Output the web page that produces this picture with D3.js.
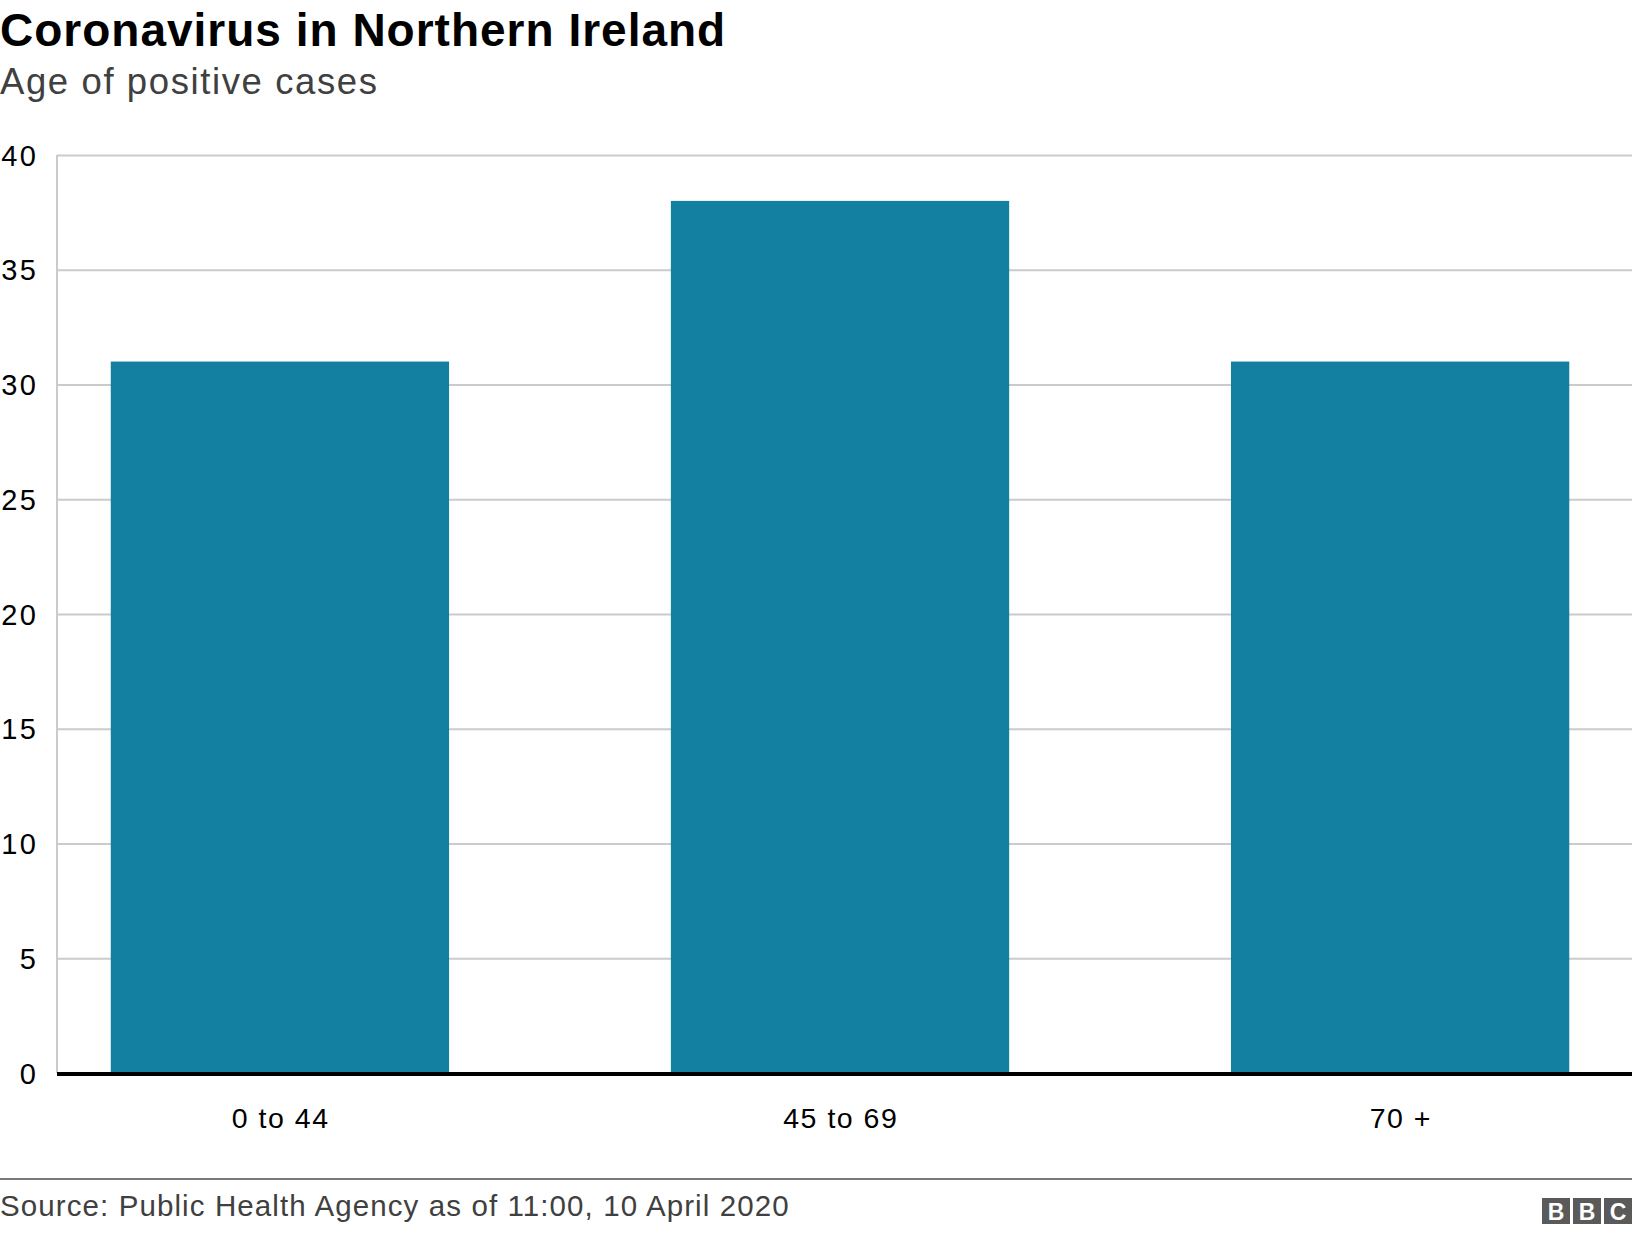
<!DOCTYPE html>
<html>
<head>
<meta charset="utf-8">
<script src="https://cdn.jsdelivr.net/npm/d3@7"></script>
<style>
  html, body { margin: 0; padding: 0; background: #fff; }
  svg { display: block; font-family: "Liberation Sans", Arial, sans-serif; }
</style>
</head>
<body>
<svg id="chart" width="1632" height="1234"></svg>
<script>
const categories = ["0 to 44", "45 to 69", "70 +"];
const values = [31, 38, 31];
const yTicks = [0, 5, 10, 15, 20, 25, 30, 35, 40];
const titleText = "Coronavirus in Northern Ireland";
const subtitleText = "Age of positive cases";
const sourceText = "Source: Public Health Agency as of 11:00, 10 April 2020";

const W = 1632, H = 1234;
const svg = d3.select("#chart");

const plotLeft = 57, plotRight = 1632, plotTop = 155, plotBottom = 1073;

const x = d3.scaleBand().domain(categories).range([plotLeft, plotRight])
  .paddingInner(0.396).paddingOuter(0.104).align(0.4615);
const y = d3.scaleLinear().domain([0, 40]).range([plotBottom, plotTop]);

// title
svg.append("text").attr("x", 0).attr("y", 46)
  .attr("font-size", 46).attr("font-weight", "bold").attr("fill", "#000")
  .attr("letter-spacing", 1)
  .text(titleText);
svg.append("text").attr("x", 0).attr("y", 94)
  .attr("font-size", 36.5).attr("fill", "#404040")
  .attr("letter-spacing", 1.6)
  .text(subtitleText);

// gridlines
const gy = svg.append("g").attr("transform", `translate(${plotLeft},0)`)
  .call(d3.axisLeft(y).tickValues(yTicks).tickSize(-(plotRight - plotLeft)).tickFormat(""));
gy.select(".domain").remove();
gy.selectAll(".tick line").attr("stroke", "#cbcbcb").attr("stroke-width", 2);

// left vertical line
svg.append("line").attr("x1", plotLeft).attr("x2", plotLeft).attr("y1", y(40)).attr("y2", y(0))
  .attr("stroke", "#cbcbcb").attr("stroke-width", 2);

// y labels
const yl = svg.append("g").attr("transform", `translate(38.5,0)`)
  .call(d3.axisLeft(y).tickValues(yTicks).tickSize(0).tickPadding(0));
yl.select(".domain").remove();
yl.selectAll(".tick text").attr("font-size", 29).attr("fill", "#000")
  .attr("font-family", "Liberation Sans, Arial, sans-serif").attr("dy", "0.35em")
  .attr("letter-spacing", 2.5);

// bars
svg.append("g").selectAll("rect").data(values).join("rect")
  .attr("x", (d, i) => x(categories[i]))
  .attr("width", x.bandwidth())
  .attr("y", d => y(d))
  .attr("height", d => y(0) - y(d))
  .attr("fill", "#1380a1");

// baseline
svg.append("line").attr("x1", plotLeft).attr("x2", plotRight).attr("y1", y(0) + 1).attr("y2", y(0) + 1)
  .attr("stroke", "#000").attr("stroke-width", 4);

// x labels
const xl = svg.append("g").attr("transform", `translate(0,1128)`)
  .call(d3.axisBottom(x).tickSize(0).tickPadding(0));
xl.select(".domain").remove();
xl.selectAll(".tick text").attr("font-size", 28.5).attr("fill", "#000")
  .attr("font-family", "Liberation Sans, Arial, sans-serif").attr("dy", "0")
  .attr("letter-spacing", 1.5).attr("dx", 0.75);

// footer
svg.append("line").attr("x1", 0).attr("x2", W).attr("y1", 1179).attr("y2", 1179)
  .attr("stroke", "#7a7a7a").attr("stroke-width", 2);
svg.append("text").attr("x", 0).attr("y", 1216)
  .attr("font-size", 29.5).attr("fill", "#404040").attr("letter-spacing", 1.1).text(sourceText);

// BBC logo
const logo = svg.append("g");
["B", "B", "C"].forEach((l, i) => {
  const bx = 1542 + i * 31;
  logo.append("rect").attr("x", bx).attr("y", 1198).attr("width", 28).attr("height", 26)
    .attr("fill", "#5a5a5a");
  logo.append("text").attr("x", bx + 14).attr("y", 1219.5).attr("text-anchor", "middle")
    .attr("font-size", 23).attr("font-weight", "bold").attr("fill", "#fff").text(l);
});
</script>
</body>
</html>
